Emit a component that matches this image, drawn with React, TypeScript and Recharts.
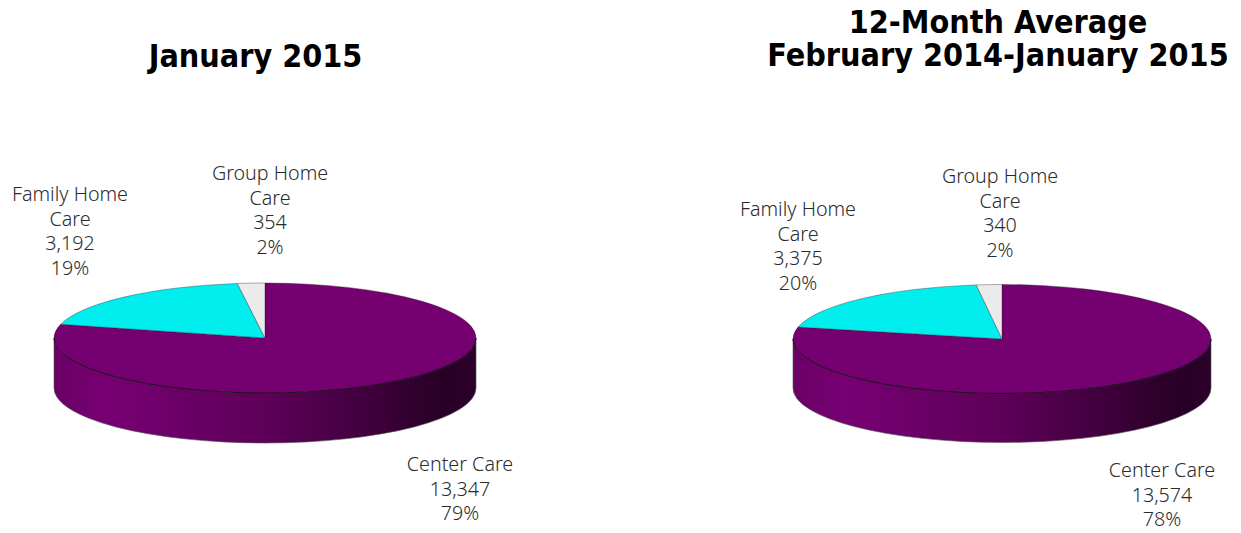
import React from "react";
import { PieChart, Pie, Cell } from "recharts";

const categories = ["Center Care", "Family Home Care", "Group Home Care"];
const januaryValues = [13347, 3192, 354];
const januaryPercents = ["79%", "19%", "2%"];
const averageValues = [13574, 3375, 340];
const averagePercents = ["78%", "20%", "2%"];
const sliceColors = ["#750070", "#00EEEE", "#EBEBEB"];
const labelLines = [["Center Care"], ["Family Home", "Care"], ["Group Home", "Care"]];

const FONT = "'Noto Sans', sans-serif";
const TITLE_FONT = "'DejaVu Sans Condensed', 'DejaVu Sans', sans-serif";

const toRows = (values: number[], percents: string[]) =>
  categories.map((name, i) => ({
    name,
    value: values[i],
    percent: percents[i],
    lines: labelLines[i],
  }));

const januaryRows = toRows(januaryValues, januaryPercents);
const averageRows = toRows(averageValues, averagePercents);

function makeSlice(ry: number, depth: number, gradId: string) {
  return (props: any) => {
    const { cx, cy, outerRadius: rx, startAngle, endAngle, fill } = props;
    const pt = (a: number) => {
      const t = (a * Math.PI) / 180;
      return [cx + rx * Math.cos(t), cy - ry * Math.sin(t)];
    };
    const [x1, y1] = pt(startAngle);
    const [x2, y2] = pt(endAngle);
    const large = Math.abs(startAngle - endAngle) > 180 ? 1 : 0;
    const top = `M${cx},${cy}L${x1},${y1}A${rx},${ry} 0 ${large} 1 ${x2},${y2}Z`;
    const wall =
      `M${cx - rx},${cy}L${cx - rx},${cy + depth}` +
      `A${rx},${ry} 0 0 0 ${cx + rx},${cy + depth}L${cx + rx},${cy}` +
      `A${rx},${ry} 0 0 1 ${cx - rx},${cy}Z`;
    const rim = `M${cx - rx},${cy}A${rx},${ry} 0 0 0 ${cx + rx},${cy}`;
    const hasWall = Math.abs(startAngle - endAngle) > 180;
    return (
      <g>
        {hasWall && <path d={wall} fill={`url(#${gradId})`} stroke="#555" strokeWidth={0.6} />}
        <path d={top} fill={fill} stroke="#2a1a2a" strokeWidth={0.6} strokeOpacity={0.6} />
        {hasWall && <path d={rim} fill="none" stroke="#1a0a1a" strokeWidth={0.9} />}
      </g>
    );
  };
}

function makeLabel(anchors: number[][]) {
  return (props: any) => {
    const { index, payload } = props;
    const [x, y] = anchors[index];
    const row = payload;
    const lines = [...row.lines, row.value.toLocaleString("en-US"), row.percent];
    return (
      <text
        x={x}
        y={y}
        textAnchor="middle"
        fontFamily={FONT}
        fontWeight={300}
        fontSize={19.7}
        fill="#2b2b2b"
      >
        {lines.map((l: string, i: number) => (
          <tspan key={i} x={x} dy={i === 0 ? 0 : 24.6}>
            {l}
          </tspan>
        ))}
      </text>
    );
  };
}

const januaryAnchors = [[460, 471], [70, 201], [270, 180]];
const averageAnchors = [[1162, 477], [798, 216], [1000, 183]];

const Title = ({ x, y, lines }: { x: number; y: number; lines: string[] }) => (
  <text x={x} y={y} textAnchor="middle" fontFamily={TITLE_FONT} fontWeight={700} fontSize={32} fill="#000">
    {lines.map((l, i) => (
      <tspan key={i} x={x} dy={i === 0 ? 0 : 33}>
        {l}
      </tspan>
    ))}
  </text>
);

export default function App() {
  return (
    <div style={{ position: "absolute", left: 0, top: 0, width: 1241, height: 533, background: "#fff" }}>
      <PieChart width={1241} height={533} margin={{ top: 0, right: 0, bottom: 0, left: 0 }}>
        <defs>
          <linearGradient id="wallA" x1="0" y1="0" x2="1" y2="0">
            <stop offset="0%" stopColor="#6a0066" />
            <stop offset="12%" stopColor="#770073" />
            <stop offset="50%" stopColor="#5e0059" />
            <stop offset="75%" stopColor="#3f003c" />
            <stop offset="92%" stopColor="#280026" />
            <stop offset="100%" stopColor="#2c002a" />
          </linearGradient>
        </defs>
        <Title x={255.5} y={67} lines={["January 2015"]} />
        <Title x={998} y={33} lines={["12-Month Average", "February 2014-January 2015"]} />
        <Pie
          data={januaryRows}
          dataKey="value"
          nameKey="name"
          cx={265}
          cy={338}
          outerRadius={211}
          innerRadius={0}
          startAngle={90}
          endAngle={-270}
          stroke="none"
          isAnimationActive={false}
          labelLine={false}
          label={makeLabel(januaryAnchors)}
          shape={makeSlice(55, 50, "wallA")}
        >
          {januaryRows.map((r, i) => (
            <Cell key={r.name} fill={sliceColors[i]} />
          ))}
        </Pie>
        <Pie
          data={averageRows}
          dataKey="value"
          nameKey="name"
          cx={1002}
          cy={339}
          outerRadius={209}
          innerRadius={0}
          startAngle={90}
          endAngle={-270}
          stroke="none"
          isAnimationActive={false}
          labelLine={false}
          label={makeLabel(averageAnchors)}
          shape={makeSlice(54.5, 49, "wallA")}
        >
          {averageRows.map((r, i) => (
            <Cell key={r.name} fill={sliceColors[i]} />
          ))}
        </Pie>
      </PieChart>
    </div>
  );
}
